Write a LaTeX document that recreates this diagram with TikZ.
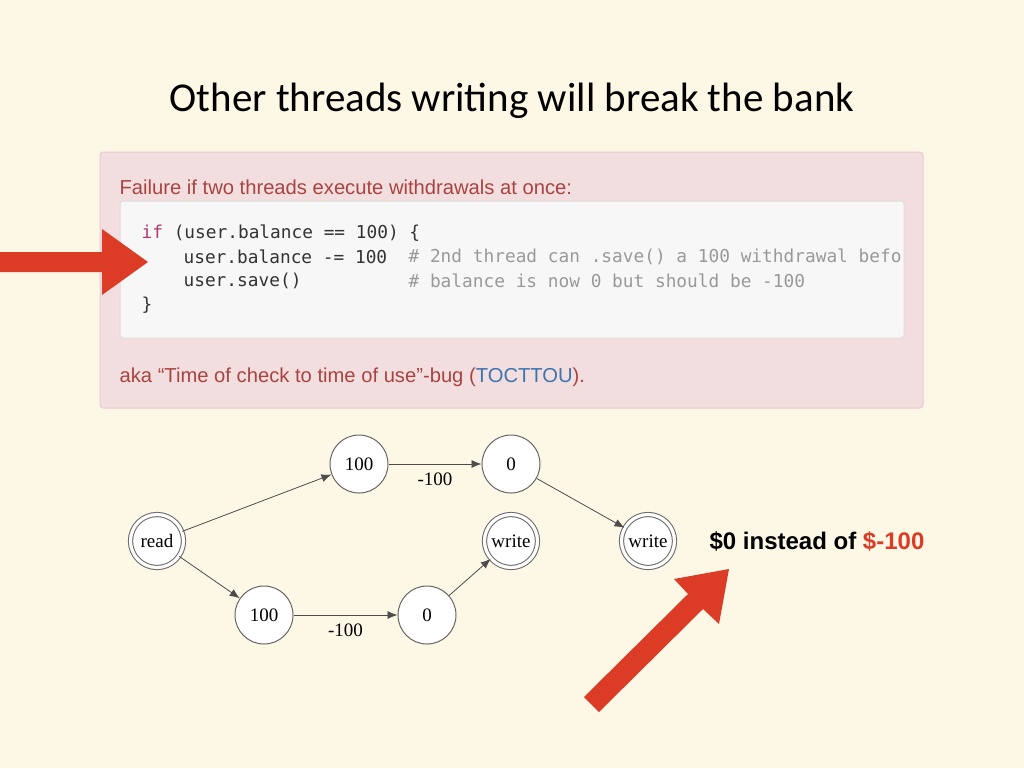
\documentclass[tikz,border=0pt]{standalone}
\usepackage{fontspec}
\setmainfont{Liberation Serif}
\newfontfamily\titlefont{Carlito}
\newfontfamily\webfont{Liberation Sans}
\newfontfamily\codefont{DejaVu Sans Mono}
\usetikzlibrary{calc,arrows.meta}
\definecolor{slidebg}{HTML}{FDF7E5}
\definecolor{alertbg}{HTML}{F2DEDE}
\definecolor{alertline}{HTML}{EBCCD1}
\definecolor{alerttext}{HTML}{A94442}
\definecolor{linkblue}{HTML}{3D74B0}
\definecolor{codebg}{HTML}{F7F7F7}
\definecolor{codeline}{HTML}{E3DADB}
\definecolor{codetext}{HTML}{333333}
\definecolor{keyword}{HTML}{B3376E}
\definecolor{comment}{HTML}{999999}
\definecolor{bigred}{HTML}{DC3C26}
\definecolor{stategray}{HTML}{666666}
\tikzset{
  state/.style={draw=stategray,circle,fill=white,line width=0.5pt,minimum size=29pt,inner sep=0pt,font=\fontsize{9.5}{11}\selectfont},
  final/.style={state,double,double distance=1.6pt,minimum size=26.5pt},
  trans/.style={draw=black!70,line width=0.4pt,-{Latex[length=5pt,width=4pt]}},
  codeline/.style={anchor=west,inner sep=0pt,text=codetext,font=\codefont\fontsize{8.9}{10}\selectfont},
  webtext/.style={anchor=west,inner sep=0pt,text=alerttext,font=\webfont\fontsize{10.1}{12}\selectfont}
}

\begin{document}
\begin{tikzpicture}[x=0.5pt,y=-0.5pt,semithick]
  \useasboundingbox[fill=slidebg] (0,0) rectangle (1024,768);

  % title
  \node (title) at (512,101) {\titlefont\fontsize{20.5}{24}\selectfont Other threads writing will break the bank};

  % alert box with code
  \draw[fill=alertbg,draw=alertline,line width=0.5pt,rounded corners=1.5pt] (100,152) rectangle (923,408);
  \node[webtext] (fail) at (119,187) {Failure if two threads execute withdrawals at once:};
  \draw[fill=codebg,draw=codeline,line width=0.5pt,rounded corners=1.5pt] (120,201) rectangle (904,338);
  \begin{scope}
  \clip (120,201) rectangle (902,338);
  \node[codeline] (l1) at (141,233) {\textcolor{keyword}{if} (user.balance == 100) \{};
  \node[codeline] (l2) at (183,257) {user.balance -= 100};
  \node[codeline,text=comment] (c2) at (408,257) {\# 2nd thread can .save() a 100 withdrawal befo};
  \node[codeline] (l3) at (183,281) {user.save()};
  \node[codeline,text=comment] (c3) at (408,281) {\# balance is now 0 but should be -100};
  \node[codeline] (l4) at (141,305) {\}};
  \end{scope}
  \node[webtext] (aka) at (119,377) {aka “Time of check to time of use”-bug (\textcolor{linkblue}{TOCTTOU}).};

  % big red arrows
  \fill[bigred] (0,252) -- (102,252) -- (102,229) -- (148,262) -- (102,295) -- (102,272) -- (0,272) -- cycle;
  \fill[bigred] (584,697) -- (688,594) -- (674,579) -- (729,569) -- (719,624) -- (703,609) -- (599,712) -- cycle;

  % states
  \node[final] (read) at (157,541) {read};
  \node[state] (a100) at (359,464) {100};
  \node[state] (a0)   at (511,464) {0};
  \node[final] (aw)   at (648,541) {write};
  \node[state] (b100) at (264,615) {100};
  \node[state] (b0)   at (427,615) {0};
  \node[final] (bw)   at (511,541) {write};

  \path (read) edge[trans] (a100);
  \path (read) edge[trans] (b100);
  \path (a100) edge[trans] node[below,font=\fontsize{9.5}{11}\selectfont,yshift=-1pt] {-100} (a0);
  \path (a0)   edge[trans] (aw);
  \path (b100) edge[trans] node[below,font=\fontsize{9.5}{11}\selectfont,yshift=-1pt] {-100} (b0);
  \path (b0)   edge[trans] (bw);

  \node[anchor=west,inner sep=0pt,font=\webfont\bfseries\fontsize{12}{14}\selectfont] (result) at (709,541) {\$0 instead of \textcolor{bigred}{\$-100}};
\end{tikzpicture}
\end{document}
